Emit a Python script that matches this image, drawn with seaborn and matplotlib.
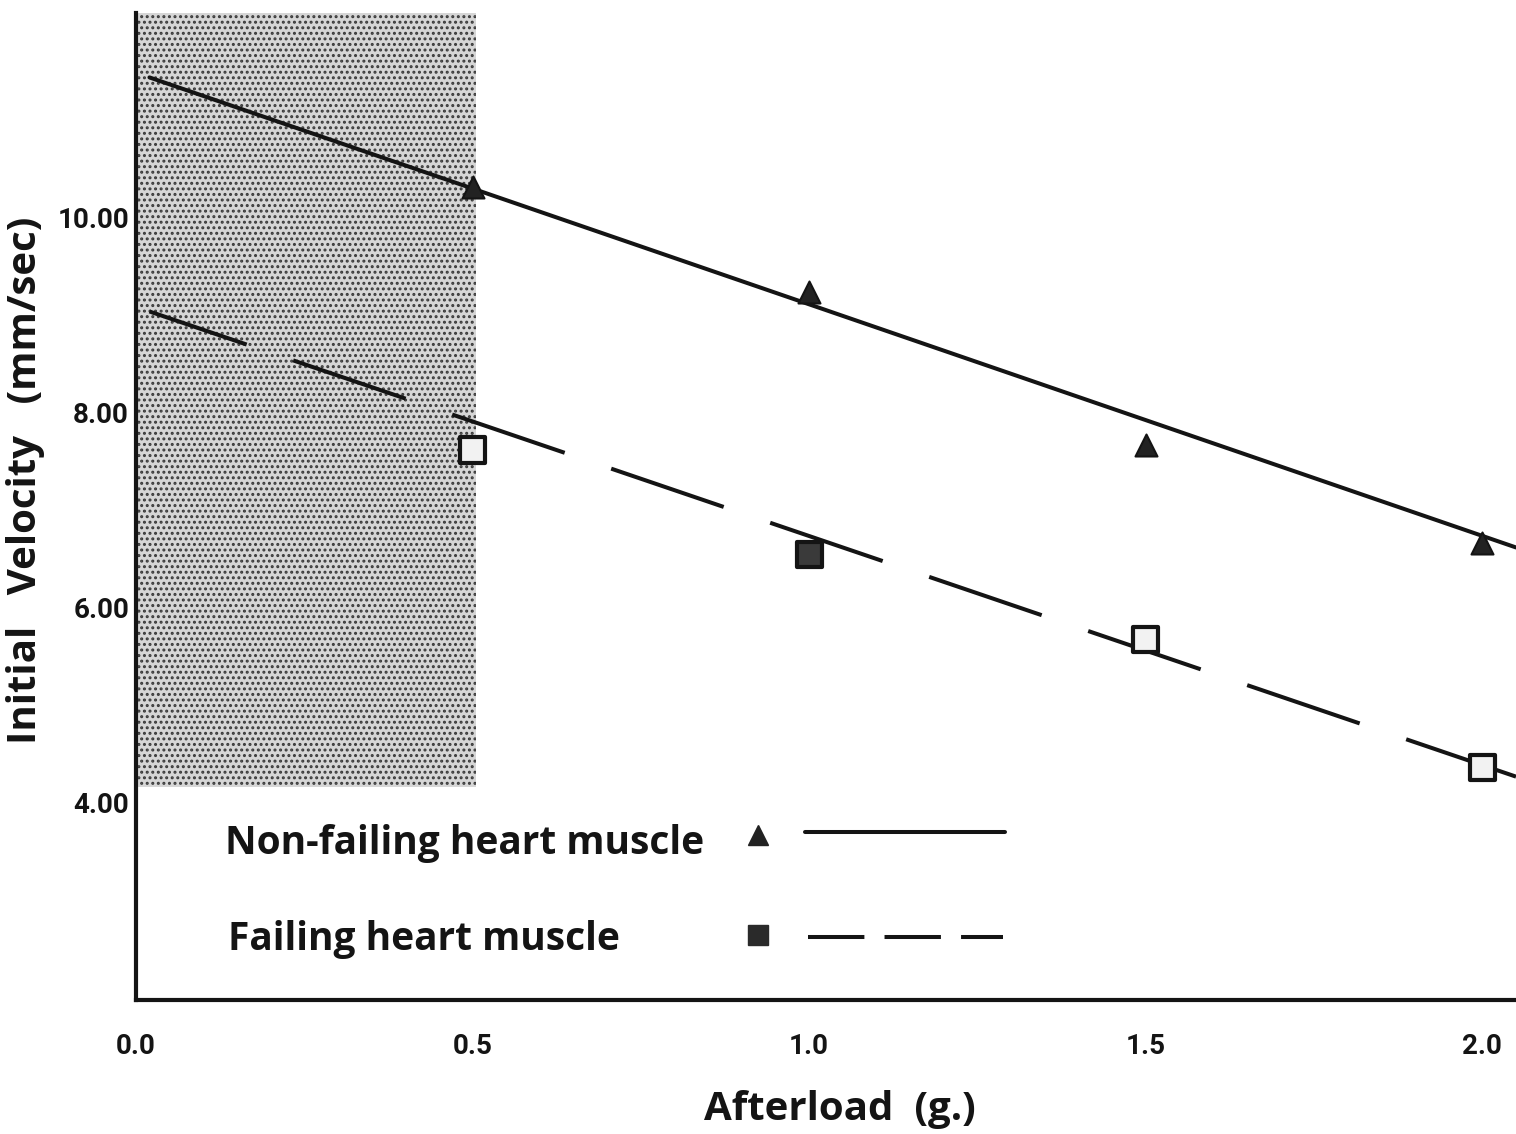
import numpy as np
import pandas as pd
import matplotlib
matplotlib.use("Agg")
import matplotlib.pyplot as plt
from matplotlib.lines import Line2D
import seaborn as sns

# DATA

afterload = [0.5, 1.0, 1.5, 2.0]
nonfailing = [10.32, 9.24, 7.67, 6.67]
failing = [7.62, 6.55, 5.68, 4.36]
failing_fill = ["open", "filled", "open", "open"]

fit_x = [0.02, 2.05]
nonfailing_fit = [11.44, 6.62]
failing_fit = [9.04, 4.27]

shade_x = [0.0, 0.505]
shade_y = [4.16, 12.10]

x_ticks = [0.0, 0.5, 1.0, 1.5, 2.0]
x_ticklabels = ["0.0", "0.5", "1.0", "1.5", "2.0"]
y_ticks = [4, 6, 8, 10]
y_ticklabels = ["4.00", "6.00", "8.00", "10.00"]

labels = ["Non-failing heart muscle", "Failing heart muscle"]

# STYLE

sns.set_theme(style="white")
plt.rcParams["font.family"] = ["Open Sans", "DejaVu Sans"]
plt.rcParams["font.weight"] = "bold"
plt.rcParams["hatch.linewidth"] = 1.4

INK = "#141414"
TICKFONT = ["Roboto", "DejaVu Sans"]

fig = plt.figure(figsize=(15.16, 11.34), dpi=100)
ax = fig.add_axes([0.0897, 0.1182, 0.9103, 0.8703])

# stippled region
ax.fill_between(shade_x, shade_y[0], shade_y[1], facecolor="#d6d6d6",
                edgecolor="#3a3a3a", hatch="...", linewidth=0, zorder=0)

# fitted lines
sns.lineplot(x=fit_x, y=nonfailing_fit, color=INK, linewidth=2.9, ax=ax)
sns.lineplot(x=fit_x, y=failing_fit, color=INK, linewidth=2.9, ax=ax)
ax.lines[-1].set_linestyle((4, (29.5, 12.2)))

# points
sns.scatterplot(x=afterload, y=nonfailing, marker="^", s=250, color="#222222",
                edgecolor=INK, linewidth=1.5, ax=ax, zorder=5)
df_fail = pd.DataFrame({"x": afterload, "y": failing, "fill": failing_fill})
sns.scatterplot(data=df_fail, x="x", y="y", hue="fill", marker="s", s=330,
                palette={"open": "#f2f2f2", "filled": "#3a3a3a"},
                edgecolor=INK, linewidth=3, legend=False, ax=ax, zorder=5)

ax.set_xlim(0, 2.05)
ax.set_ylim(1.98, 12.10)
ax.set_xticks(x_ticks)
ax.set_xticklabels(x_ticklabels, family=TICKFONT)
ax.set_yticks(y_ticks)
ax.set_yticklabels(y_ticklabels, family=TICKFONT)
ax.tick_params(axis="x", length=0, pad=24, labelsize=20, colors=INK)
ax.tick_params(axis="y", length=0, pad=5, labelsize=20, colors=INK)

sns.despine(ax=ax)
for side in ["left", "bottom"]:
    ax.spines[side].set_linewidth(3)
    ax.spines[side].set_color(INK)

ax.set_xlabel("Afterload  (g.)", fontsize=29, fontweight="bold", color=INK)
ax.set_ylabel("Initial   Velocity   (mm/sec)", fontsize=29, fontweight="bold",
              color=INK)
ax.xaxis.set_label_coords(0.51, -0.091)
ax.yaxis.set_label_coords(-0.066, 0.527)

# legend key, drawn inside the axes
ax.text(0.0645, 0.159, labels[0], transform=ax.transAxes, fontsize=28,
        fontweight="bold", va="center", ha="left", color=INK)
ax.text(0.0667, 0.061, labels[1], transform=ax.transAxes, fontsize=28,
        fontweight="bold", va="center", ha="left", color=INK)
ax.add_line(Line2D([0.451], [0.167], transform=ax.transAxes, marker="^",
                   markersize=14, color="#222222", linestyle="none"))
ax.add_line(Line2D([0.485, 0.630], [0.170, 0.170], transform=ax.transAxes,
                   color=INK, linewidth=2.9))
ax.add_line(Line2D([0.451], [0.066], transform=ax.transAxes, marker="s",
                   markersize=15, color="#2a2a2a", linestyle="none"))
ax.add_line(Line2D([0.487, 0.628], [0.064, 0.064], transform=ax.transAxes,
                   color=INK, linewidth=2.9, dashes=(14, 5)))

fig.savefig("out.png", dpi=100)
